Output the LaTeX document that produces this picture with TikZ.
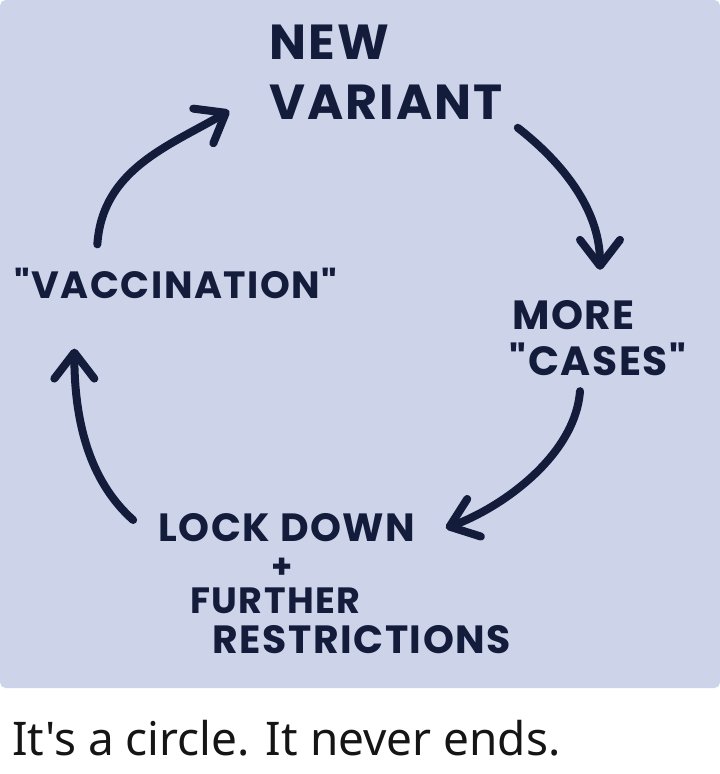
\documentclass[tikz,border=0pt]{standalone}
\usepackage{fontspec}
\newfontfamily\marker{Poppins}[LetterSpace=4]
\newfontfamily\capfont[FakeStretch=0.99]{Noto Sans}
\usetikzlibrary{arrows.meta,positioning,calc}
\definecolor{Board}{HTML}{CDD4EA}
\definecolor{Ink}{HTML}{141C3C}
\definecolor{CapInk}{HTML}{151515}
\tikzset{
  scrawl/.style={font=\marker\fontsize{#1}{#1}\selectfont\bfseries,text=Ink,inner sep=0pt},
  scrawl/.default=28,
  cycle/.style={-{Straight Barb[length=6.5mm,width=10mm,line cap=round,line join=round]},draw=Ink,line width=2mm,line cap=round},
  caption/.style={font=\capfont\fontsize{33}{33}\selectfont,text=CapInk,inner sep=0pt}
}

\begin{document}
\begin{tikzpicture}[x=0.025cm,y=-0.025cm]
  % paper and photo
  \fill[white] (0,0) rectangle (720,774);
  \fill[Board,rounded corners=4pt] (0,0) rectangle (720,688);
  \useasboundingbox (0,0) rectangle (720,774);

  % the four stages
  \node[scrawl=35,align=left] (variant) at (386,72) {NEW\\[8pt]VARIANT};
  \node[scrawl=27] (vacc) at (176,283) {"VACCINATION"};
  \node[scrawl=29,align=center] (cases) at (598,338) {\hspace*{-1.2em}MORE\\[4pt]"CASES"};
  \node[scrawl=28] (lock) at (287,528) {LOCK DOWN};
  \node[scrawl=24] (plus) at (282,568) {+};
  \node[scrawl=26,anchor=north west] (further) at (190,588) {FURTHER};
  \node[scrawl=28,anchor=north west] (restr) at (212,625) {RESTRICTIONS};

  % round and round
  \draw[cycle] ($(vacc.north west)+(83,-23)$) .. controls +(5,-75) and +(-60,35) .. ($(variant.south west)+(-40,-9)$);
  \draw[cycle] ($(variant.south east)+(15,8)$) .. controls +(45,35) and +(0,-60) .. ($(cases.north)+(2,-30)$);
  \draw[cycle] ($(cases.south)+(-18,15)$) .. controls +(-5,65) and +(55,-20) .. ($(lock.east)+(30,0)$);
  \draw[cycle] ($(lock.west)+(-25,-8)$) .. controls +(-45,-40) and +(0,70) .. ($(vacc.south west)+(60,50)$);

  \node[caption,anchor=west] (motto) at (12,738) {It's a circle. It never ends.};
\end{tikzpicture}
\end{document}
